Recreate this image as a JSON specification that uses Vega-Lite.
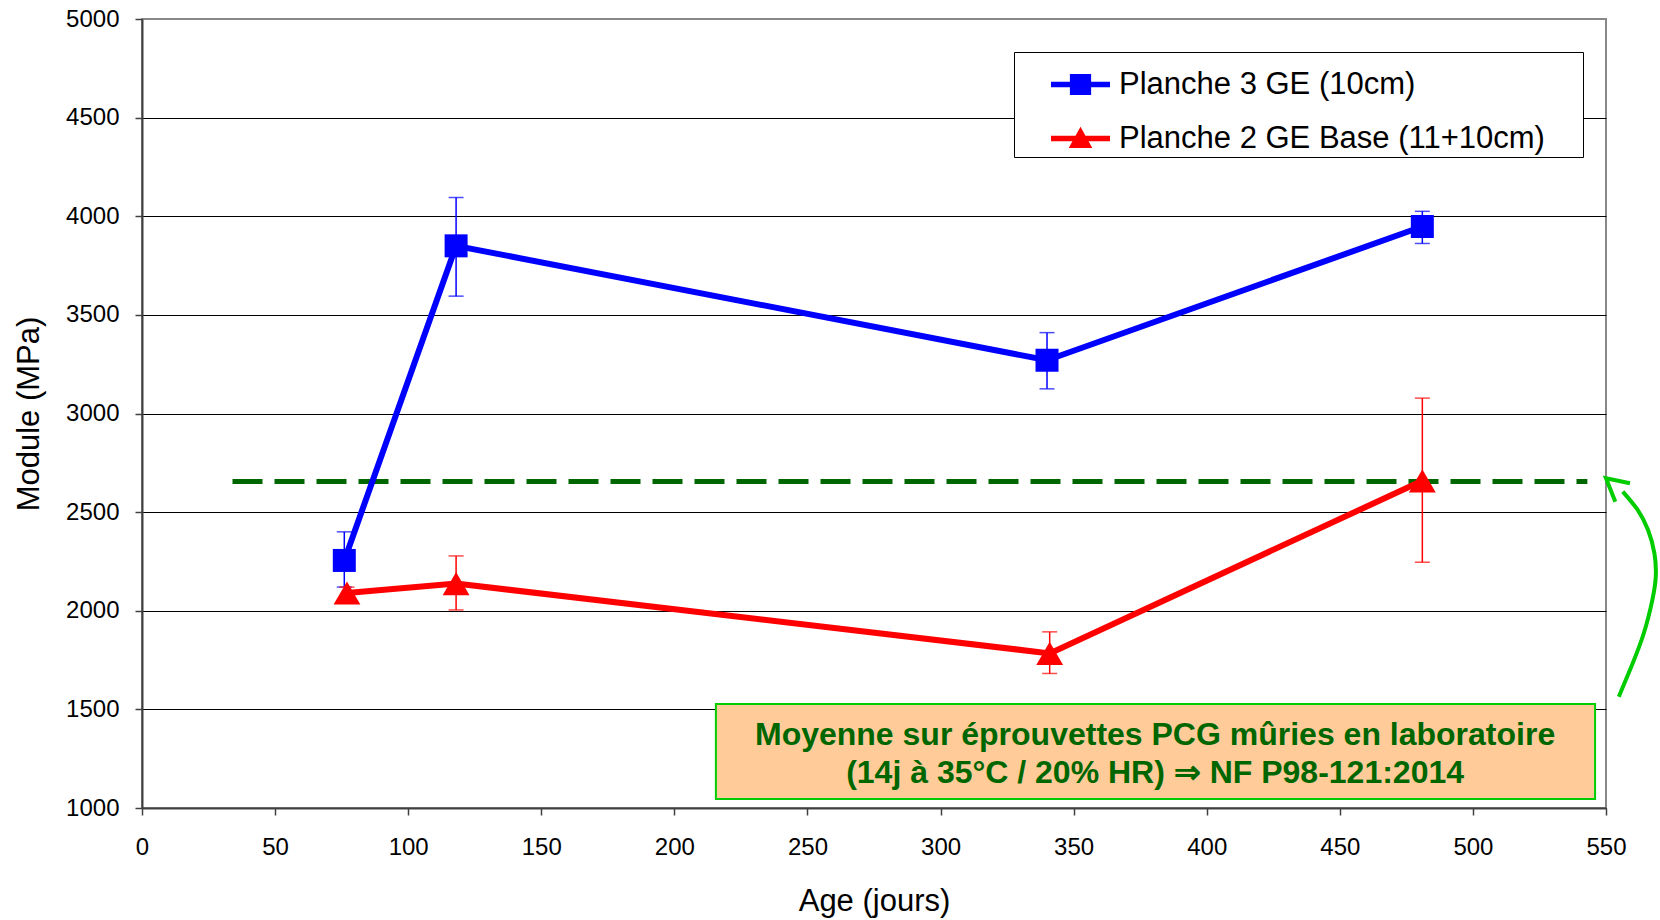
{
  "$schema": "https://vega.github.io/schema/vega-lite/v6.json",
  "width": 1464,
  "height": 789,
  "autosize": {"type": "none"},
  "padding": {"left": 142, "top": 19, "right": 54, "bottom": 112},
  "background": "white",
  "config": {
    "font": "Liberation Sans",
    "view": {"stroke": "#888888", "strokeWidth": 2}
  },
  "datasets": {
    "series": [
      {"series": "Planche 3 GE (10cm)", "age": 76, "module": 2255, "lo": 2120, "hi": 2400},
      {"series": "Planche 3 GE (10cm)", "age": 118, "module": 3850, "lo": 3595, "hi": 4095},
      {"series": "Planche 3 GE (10cm)", "age": 340, "module": 3270, "lo": 3125, "hi": 3410},
      {"series": "Planche 3 GE (10cm)", "age": 481, "module": 3948, "lo": 3862, "hi": 4025},
      {"series": "Planche 2 GE Base (11+10cm)", "age": 77, "module": 2090, "lo": 2060, "hi": 2120},
      {"series": "Planche 2 GE Base (11+10cm)", "age": 118, "module": 2138, "lo": 2004, "hi": 2278},
      {"series": "Planche 2 GE Base (11+10cm)", "age": 341, "module": 1784, "lo": 1682, "hi": 1893},
      {"series": "Planche 2 GE Base (11+10cm)", "age": 481, "module": 2659, "lo": 2246, "hi": 3078}
    ],
    "arrow": [
      {"i": 1, "x": 554.8, "y": 1564},
      {"i": 2, "x": 559.5, "y": 1716},
      {"i": 3, "x": 564.2, "y": 1886},
      {"i": 4, "x": 567.4, "y": 2054},
      {"i": 5, "x": 568.7, "y": 2173},
      {"i": 6, "x": 568.2, "y": 2291},
      {"i": 7, "x": 565.8, "y": 2409},
      {"i": 8, "x": 561.9, "y": 2511},
      {"i": 9, "x": 556.3, "y": 2604}
    ],
    "arrowhead": [
      {"i": 1, "x": 559.0, "y": 2646},
      {"i": 2, "x": 550.0, "y": 2672},
      {"i": 3, "x": 553.5, "y": 2553}
    ]
  },
  "layer": [
    {
      "data": {"values": [{}]},
      "mark": {"type": "rect", "fill": "#FFCC99", "stroke": "#00CC00", "strokeWidth": 2},
      "encoding": {
        "x": {"datum": 215.6, "type": "quantitative", "title": "Age (jours)", "scale": {"domain": [0, 550], "nice": false, "zero": false},
          "axis": {
            "values": [0, 50, 100, 150, 200, 250, 300, 350, 400, 450, 500, 550],
            "format": "d",
            "titleFontSize": 31, "titleFontWeight": "normal", "titleColor": "black", "titlePadding": 27,
            "labelFontSize": 24, "labelColor": "black", "labelPadding": 20,
            "tickSize": 7, "tickColor": "#404040", "tickWidth": 1.5,
            "domainColor": "#404040", "domainWidth": 2,
            "grid": false, "labelFlush": false, "labelOverlap": false
          }},
        "x2": {"datum": 545.9},
        "y": {"datum": 1527, "type": "quantitative", "title": "Module (MPa)", "scale": {"domain": [1000, 5000], "nice": false, "zero": false},
          "axis": {
            "values": [1000, 1500, 2000, 2500, 3000, 3500, 4000, 4500, 5000],
            "format": "d",
            "titleFontSize": 31, "titleFontWeight": "normal", "titleColor": "black", "titlePadding": 20,
            "labelFontSize": 24, "labelColor": "black", "labelPadding": 16,
            "tickSize": 7, "tickColor": "#404040", "tickWidth": 1.5,
            "domainColor": "#404040", "domainWidth": 2,
            "grid": true, "gridWidth": 1.2,
            "gridColor": {"condition": {"test": "datum.value == 5000", "value": "#888888"}, "value": "#000000"},
            "gridOpacity": 1,
            "labelFlush": false, "labelOverlap": false
          }},
        "y2": {"datum": 1046}
      }
    },
    {
      "data": {"values": [{}]},
      "mark": {"type": "rule", "stroke": "#006600", "strokeWidth": 5, "strokeDash": [30, 12]},
      "encoding": {
        "x": {"datum": 34, "type": "quantitative", "title": "Age (jours)"},
        "x2": {"datum": 543},
        "y": {"datum": 2655, "type": "quantitative", "title": "Module (MPa)"}
      }
    },
    {
      "data": {"name": "series"},
      "transform": [{"filter": "datum.series == 'Planche 3 GE (10cm)'"}],
      "mark": {"type": "errorbar", "color": "#0000FF", "ticks": {"size": 15, "thickness": 1.5, "color": "#0000FF"}, "rule": {"strokeWidth": 1.5, "color": "#0000FF"}},
      "encoding": {
        "x": {"field": "age", "type": "quantitative", "title": "Age (jours)"},
        "y": {"field": "lo", "type": "quantitative", "title": "Module (MPa)"},
        "y2": {"field": "hi"}
      }
    },
    {
      "data": {"name": "series"},
      "transform": [{"filter": "datum.series == 'Planche 2 GE Base (11+10cm)'"}],
      "mark": {"type": "errorbar", "color": "#FF0000", "ticks": {"size": 15, "thickness": 1.5, "color": "#FF0000"}, "rule": {"strokeWidth": 1.5, "color": "#FF0000"}},
      "encoding": {
        "x": {"field": "age", "type": "quantitative", "title": "Age (jours)"},
        "y": {"field": "lo", "type": "quantitative", "title": "Module (MPa)"},
        "y2": {"field": "hi"}
      }
    },
    {
      "data": {"name": "series"},
      "transform": [{"filter": "datum.series == 'Planche 3 GE (10cm)'"}],
      "mark": {"type": "line", "strokeWidth": 6, "color": "#0000FF"},
      "encoding": {
        "x": {"field": "age", "type": "quantitative", "title": "Age (jours)"},
        "y": {"field": "module", "type": "quantitative", "title": "Module (MPa)"},
        "order": {"field": "age"}
      }
    },
    {
      "data": {"name": "series"},
      "transform": [{"filter": "datum.series == 'Planche 2 GE Base (11+10cm)'"}],
      "mark": {"type": "line", "strokeWidth": 6, "color": "#FF0000"},
      "encoding": {
        "x": {"field": "age", "type": "quantitative", "title": "Age (jours)"},
        "y": {"field": "module", "type": "quantitative", "title": "Module (MPa)"},
        "order": {"field": "age"}
      }
    },
    {
      "data": {"name": "series"},
      "transform": [{"filter": "datum.series == 'Planche 3 GE (10cm)'"}],
      "mark": {"type": "point", "shape": "square", "size": 529, "filled": true, "color": "#0000FF", "opacity": 1},
      "encoding": {
        "x": {"field": "age", "type": "quantitative", "title": "Age (jours)"},
        "y": {"field": "module", "type": "quantitative", "title": "Module (MPa)"}
      }
    },
    {
      "data": {"name": "series"},
      "transform": [{"filter": "datum.series == 'Planche 2 GE Base (11+10cm)'"}],
      "mark": {"type": "point", "shape": "triangle-up", "size": 720, "filled": true, "color": "#FF0000", "opacity": 1},
      "encoding": {
        "x": {"field": "age", "type": "quantitative", "title": "Age (jours)"},
        "y": {"field": "module", "type": "quantitative", "title": "Module (MPa)"}
      }
    },
    {
      "data": {"name": "series"},
      "transform": [{"filter": "false"}],
      "mark": {"type": "point", "filled": true, "opacity": 1},
      "encoding": {
        "x": {"field": "age", "type": "quantitative", "title": "Age (jours)"},
        "y": {"field": "module", "type": "quantitative", "title": "Module (MPa)"},
        "color": {"field": "series", "type": "nominal",
          "scale": {"domain": ["Planche 3 GE (10cm)", "Planche 2 GE Base (11+10cm)"], "range": ["#0000FF", "#FF0000"]},
          "legend": {
            "title": " ", "titleOrient": "right", "titlePadding": 35, "titleFontSize": 2,
            "orient": "none", "legendX": 872, "legendY": 33,
            "fillColor": "white", "strokeColor": "black",
            "padding": 3,
            "labelFontSize": 31, "labelColor": "black", "labelLimit": 1000,
            "labelOffset": 9, "symbolOffset": 34,
            "symbolSize": 3481, "symbolStrokeWidth": 0, "symbolOpacity": 1,
            "rowPadding": 9
          }},
        "shape": {"field": "series", "type": "nominal",
          "scale": {"domain": ["Planche 3 GE (10cm)", "Planche 2 GE Base (11+10cm)"],
            "range": ["M-1,-0.09H1V0.09H-1Z M-0.36,-0.36H0.36V0.36H-0.36Z", "M-1,-0.09H1V0.09H-1Z M0,-0.4L0.4,0.32L-0.4,0.32Z"]},
          "legend": {
            "title": " ", "titleOrient": "right", "titlePadding": 35, "titleFontSize": 2,
            "orient": "none", "legendX": 872, "legendY": 33,
            "fillColor": "white", "strokeColor": "black",
            "padding": 3,
            "labelFontSize": 31, "labelColor": "black", "labelLimit": 1000,
            "labelOffset": 9, "symbolOffset": 34,
            "symbolSize": 3481, "symbolStrokeWidth": 0, "symbolOpacity": 1,
            "rowPadding": 9
          }}
      }
    },
    {
      "data": {"values": [{}]},
      "mark": {"type": "text", "align": "center", "baseline": "middle", "fontSize": 32, "fontWeight": "bold",
        "color": "#006600", "lineHeight": 38,
        "text": ["Moyenne sur éprouvettes PCG mûries en laboratoire", "(14j à 35°C / 20% HR) ⇒ NF P98-121:2014"]},
      "encoding": {
        "x": {"datum": 380.6, "type": "quantitative", "title": "Age (jours)"},
        "y": {"datum": 1370, "type": "quantitative", "title": "Module (MPa)"}
      }
    },
    {
      "data": {"name": "arrow"},
      "mark": {"type": "line", "stroke": "#00CC00", "strokeWidth": 4, "interpolate": "natural", "clip": false},
      "encoding": {
        "x": {"field": "x", "type": "quantitative", "title": "Age (jours)"},
        "y": {"field": "y", "type": "quantitative", "title": "Module (MPa)"},
        "order": {"field": "i"}
      }
    },
    {
      "data": {"name": "arrowhead"},
      "mark": {"type": "line", "stroke": "#00CC00", "strokeWidth": 4, "strokeJoin": "miter", "clip": false},
      "encoding": {
        "x": {"field": "x", "type": "quantitative", "title": "Age (jours)"},
        "y": {"field": "y", "type": "quantitative", "title": "Module (MPa)"},
        "order": {"field": "i"}
      }
    }
  ]
}
